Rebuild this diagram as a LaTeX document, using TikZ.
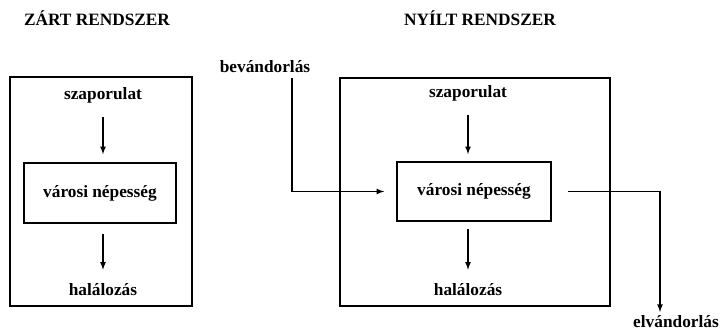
\documentclass[tikz,border=0pt]{standalone}
\usepackage{fontspec}
\setmainfont{Liberation Serif}
\usetikzlibrary{arrows}
\tikzstyle{outer}=[rectangle,draw=black,line width=2.2pt,inner sep=0pt]
\tikzstyle{inner}=[rectangle,draw=black,line width=1.7pt,inner sep=0pt,
  font=\fontsize{17.3}{19}\selectfont\bfseries]
\tikzstyle{lbl}=[inner sep=0pt,font=\fontsize{17.3}{19}\selectfont\bfseries]
\tikzstyle{flow}=[line width=1.6pt,-latex]
\tikzstyle{none}=[]

\begin{document}
\begin{tikzpicture}[x=1pt,y=-1pt]
            \useasboundingbox (0,0) rectangle (727,332);
            \node [style=lbl] (0) at (97, 18) {ZÁRT RENDSZER};
            \node [style=outer, minimum width=182pt, minimum height=229pt] (1) at (101, 191.5) {};
            \node [style=inner, minimum width=152pt, minimum height=60pt] (2) at (100, 193) {városi népesség};
            \node [style=lbl] (3) at (103, 95) {szaporulat};
            \node [style=lbl] (4) at (103, 290) {halálozás};
            \node [style=lbl] (5) at (480, 18) {NYÍLT RENDSZER};
            \node [style=outer, minimum width=270pt, minimum height=228pt] (6) at (475, 192) {};
            \node [style=inner, minimum width=154pt, minimum height=59pt] (7) at (474, 191.5) {városi népesség};
            \node [style=lbl] (8) at (468, 93) {szaporulat};
            \node [style=lbl] (9) at (468, 290) {halálozás};
            \node [style=lbl] (10) at (265, 67) {bevándorlás};
            \node [style=lbl] (11) at (676, 322) {elvándorlás};
            \coordinate (12) at (292, 78);
            \coordinate (13) at (660, 312);
            \draw [style=flow, shorten <=14pt, shorten >=8pt] (3) to (3 |- 2.north);
            \draw [style=flow, shorten <=10pt, shorten >=14pt] (2.south -| 4) to (4);
            \draw [style=flow, shorten <=14pt, shorten >=7pt] (8) to (8 |- 7.north);
            \draw [style=flow, shorten <=7pt, shorten >=14pt] (7.south -| 9) to (9);
            \draw [style=flow, shorten >=12pt] (12) |- (7);
            \draw [style=flow, shorten <=16pt] (7.east) -| (13);
    \end{tikzpicture}
\end{document}
